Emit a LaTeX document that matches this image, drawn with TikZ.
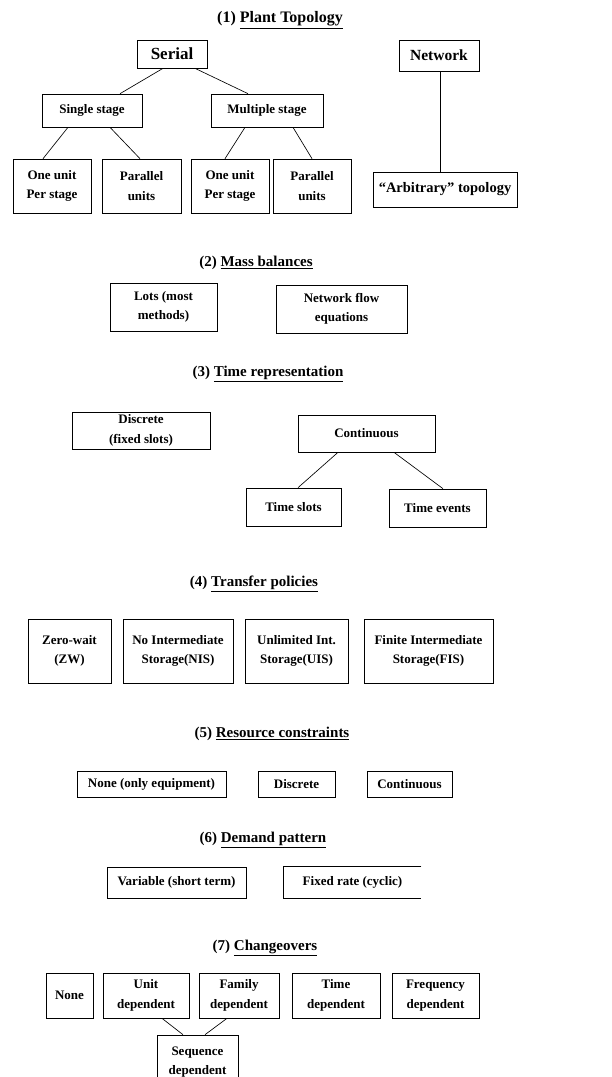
\documentclass[tikz,border=0pt]{standalone}
\usepackage{fontspec}
\setmainfont{Liberation Serif}
\begin{document}
\begin{tikzpicture}[x=1pt,y=-1pt,
  bx/.style={draw, line width=0.65pt, inner sep=0pt, align=center,
    font=\fontsize{13}{19.5}\selectfont\bfseries},
  bigbx/.style={bx, font=\fontsize{15.5}{19}\selectfont\bfseries},
  ttl/.style={inner sep=0pt, font=\fontsize{15}{18}\selectfont\bfseries},
  conn/.style={line width=0.65pt}]
\useasboundingbox (0,0) rectangle (611,1077);
\clip (0,0) rectangle (611,1077);

% (1) Plant topology
\node[ttl, font=\fontsize{16}{19}\selectfont\bfseries] (t1) at (280,20) {(1) \underline{Plant Topology}};
\node[bigbx, minimum width=70, minimum height=28, font=\fontsize{17}{19}\selectfont\bfseries] (serial) at (172,54) {Serial};
\node[bigbx, minimum width=80, minimum height=31] (network) at (439,55.5) {Network};
\node[bx, minimum width=100, minimum height=33] (single) at (92,110.5) {Single stage};
\node[bx, minimum width=112, minimum height=33] (multi) at (267,110.5) {Multiple stage};
\node[bx, minimum width=78, minimum height=54] (oneA) at (52,186) {One unit\\Per stage};
\node[bx, minimum width=79, minimum height=54] (parA) at (141.5,186) {Parallel\\units};
\node[bx, minimum width=78, minimum height=54] (oneB) at (230,186) {One unit\\Per stage};
\node[bx, minimum width=78, minimum height=54] (parB) at (312,186) {Parallel\\units};
\node[bx, minimum width=144, minimum height=35, font=\fontsize{14.5}{18}\selectfont\bfseries] (arb) at (445,189.5) {“Arbitrary” topology};

\draw[conn] ([xshift=-9pt]serial.south) -- ([xshift=28pt]single.north);
\draw[conn] ([xshift=23pt]serial.south) -- ([xshift=-19pt]multi.north);
\draw[conn] ([xshift=-24pt]single.south) -- ([xshift=-9pt]oneA.north);
\draw[conn] ([xshift=18pt]single.south) -- ([xshift=-1.5pt]parA.north);
\draw[conn] ([xshift=-22pt]multi.south) -- ([xshift=-5pt]oneB.north);
\draw[conn] ([xshift=26pt]multi.south) -- (parB.north);
\draw[conn] ([xshift=1pt]network.south) -- ([xshift=-5pt]arb.north);

% (2) Mass balances
\node[ttl] (t2) at (256,263) {(2) \underline{Mass balances}};
\node[bx, minimum width=107, minimum height=48] (lots) at (163.5,307) {Lots (most\\methods)};
\node[bx, minimum width=131, minimum height=48] (netflow) at (341.5,309) {Network flow\\equations};

% (3) Time representation
\node[ttl] (t3) at (268,374) {(3) \underline{Time representation}};
\node[bx, minimum width=138, minimum height=37] (disc) at (141,430.5) {Discrete\\(fixed slots)};
\node[bx, minimum width=137, minimum height=37] (cont) at (366.5,433.5) {Continuous};
\node[bx, minimum width=95, minimum height=38] (tslots) at (293.5,507) {Time slots};
\node[bx, minimum width=97, minimum height=38] (tevents) at (437.5,508) {Time events};
\draw[conn] ([xshift=-28.5pt]cont.south) -- ([xshift=4.5pt]tslots.north);
\draw[conn] ([xshift=27.5pt]cont.south) -- ([xshift=5.5pt]tevents.north);

% (4) Transfer policies
\node[ttl] (t4) at (254,584) {(4) \underline{Transfer policies}};
\node[bx, minimum width=83, minimum height=64] (zw) at (69.5,651) {Zero-wait\\(ZW)};
\node[bx, minimum width=110, minimum height=64] (nis) at (178,651) {No Intermediate\\Storage(NIS)};
\node[bx, minimum width=103, minimum height=64] (uis) at (296.5,651) {Unlimited Int.\\Storage(UIS)};
\node[bx, minimum width=129, minimum height=64] (fis) at (428.5,651) {Finite Intermediate\\Storage(FIS)};

% (5) Resource constraints
\node[ttl] (t5) at (272,734) {(5) \underline{Resource constraints}};
\node[bx, minimum width=149, minimum height=26] (rnone) at (151.5,784) {None (only equipment)};
\node[bx, minimum width=77, minimum height=26] (rdisc) at (296.5,784) {Discrete};
\node[bx, minimum width=85, minimum height=26] (rcont) at (409.5,784) {Continuous};

% (6) Demand pattern
\node[ttl] (t6) at (263,840) {(6) \underline{Demand pattern}};
\node[bx, minimum width=139, minimum height=31] (var) at (176.5,882.5) {Variable (short term)};
\node[bx, draw=none, minimum width=137, minimum height=31] (fixed) at (352.5,882.5) {Fixed rate (cyclic)};
\draw[conn] (fixed.north east) -- (fixed.north west) -- (fixed.south west) -- (fixed.south east);

% (7) Changeovers
\node[ttl] (t7) at (265,948) {(7) \underline{Changeovers}};
\node[bx, minimum width=47, minimum height=45] (cnone) at (69.5,995.5) {None};
\node[bx, minimum width=86, minimum height=45] (unit) at (146,995.5) {Unit\\dependent};
\node[bx, minimum width=80, minimum height=45] (family) at (239,995.5) {Family\\dependent};
\node[bx, minimum width=88, minimum height=45] (timed) at (336,995.5) {Time\\dependent};
\node[bx, minimum width=87, minimum height=45] (freq) at (435.5,995.5) {Frequency\\dependent};
\node[bx, minimum width=81, minimum height=54] (seq) at (197.5,1062) {Sequence\\dependent};
\draw[conn] ([xshift=16pt]unit.south) -- ([xshift=-14.5pt]seq.north);
\draw[conn] ([xshift=-12pt]family.south) -- ([xshift=7.5pt]seq.north);
\end{tikzpicture}
\end{document}
